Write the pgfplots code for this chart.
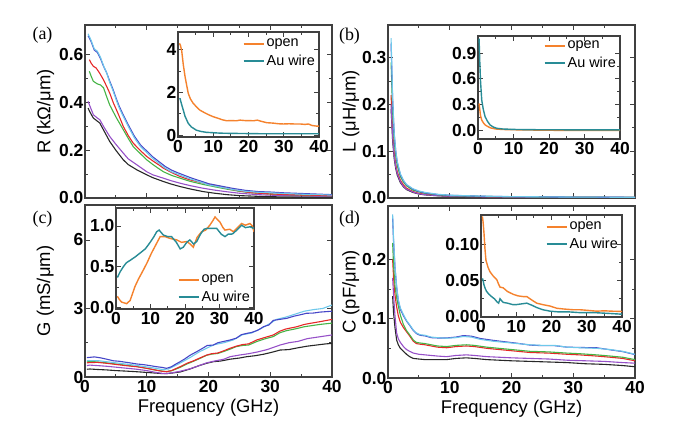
\documentclass[border=0pt]{standalone}
\usepackage{pgfplots}
\pgfplotsset{compat=1.18}
\usepackage{fontspec}
\setmainfont{Liberation Sans}
\newfontfamily\seriffont{Liberation Serif}
\definecolor{cOrange}{RGB}{245,130,45}
\definecolor{cTeal}{RGB}{40,140,150}
\definecolor{cCyan}{RGB}{110,200,235}
\definecolor{cBlue}{RGB}{70,70,200}
\definecolor{cRed}{RGB}{230,40,40}
\definecolor{cGreen}{RGB}{70,180,70}
\definecolor{cPurple}{RGB}{150,80,200}
\definecolor{cBlack}{RGB}{40,40,40}
\newcommand\tickfont{\fontsize{17.5}{19}\selectfont\bfseries}
\newcommand\labfont{\fontsize{18.5}{20}\selectfont}
\newcommand\legfont{\fontsize{14.5}{15}\selectfont}
\pgfplotsset{
  legend image code/.code={\draw[#1, line width=2bp] (0bp,0bp) -- (20bp,0bp);},
  common/.style={
    scale only axis, xmin=0, xmax=40, xtick={0,10,20,30,40},
    minor x tick num=1, minor y tick num=1,
    axis line style={line width=1.1bp, color=black!75},
    every tick/.style={line width=0.8bp, black!75},
    major tick length=5bp, minor tick length=3bp,
    tick label style={font=\tickfont},
    /pgf/number format/assume math mode=true,
    yticklabel style={inner xsep=1.5bp},
    xticklabel style={inner ysep=3bp},
  },
  mainax/.style={common, width=247bp, height=173bp, anchor=south west,
    every axis plot/.append style={line width=1.1bp},
    every axis y label/.style={at={(axis description cs:#1,0.5)}, rotate=90, anchor=center, font=\labfont},
    every axis x label/.style={at={(axis description cs:0.5,-0.205)}, anchor=base, font=\labfont},
  },
  inset/.style={common, anchor=south west, axis background/.style={fill=white},
    every axis plot/.append style={line width=1.4bp},
    legend style={draw=none, fill=none, font=\legfont, inner sep=1bp, row sep=2.5bp,
      cells={anchor=west}},
  },
  legtop/.style={legend style={at={(axis description cs:1,1)}, anchor=north east, xshift=-1bp, yshift=-#1}},
  legbot/.style={legend style={at={(axis description cs:1,0)}, anchor=south east, xshift=-1bp, yshift=#1}},
}
\begin{document}
\begin{tikzpicture}
\path[use as bounding box] (0,0) rectangle (676bp,442bp);

% ---------------- (a) ----------------
\begin{axis}[mainax=-0.16, at={(85bp,244bp)}, ymin=0, ymax=0.725,
  ytick={0,0.2,0.4,0.6}, xticklabels={},
  yticklabel style={/pgf/number format/fixed,/pgf/number format/fixed zerofill,/pgf/number format/precision=1},
  ylabel={R (kΩ/μm)}]
\addplot[cBlack] coordinates {(0.5,0.377)(0.8,0.36)(1.35,0.335)(2.0,0.322)(2.4,0.314)(3.0,0.285)(4.0,0.237)(5.0,0.2)(6.2,0.16)(7.0,0.14)(8.4,0.118)(10,0.097)(11,0.085)(12.7,0.069)(14,0.058)(15.4,0.048)(17,0.038)(19.1,0.027)(21,0.02)(23,0.014)(25,0.01)(28,0.007)(31,0.005)(35,0.004)(40,0.004)};
\addplot[cPurple] coordinates {(0.5,0.405)(0.8,0.385)(1.35,0.349)(2.0,0.335)(2.4,0.328)(3.0,0.3)(4.0,0.258)(5.0,0.225)(6.2,0.188)(7.0,0.164)(8.4,0.139)(10,0.11)(11,0.097)(12.7,0.083)(14,0.072)(15.4,0.062)(17,0.052)(19.1,0.041)(21,0.033)(23,0.026)(25,0.02)(28,0.014)(31,0.011)(35,0.009)(40,0.008)};
\addplot[cGreen] coordinates {(0.7,0.531)(1.0,0.51)(1.35,0.489)(2.0,0.478)(2.5,0.474)(3.0,0.462)(3.5,0.425)(4.0,0.39)(5.0,0.34)(6.2,0.286)(7.0,0.25)(7.8,0.216)(9.0,0.185)(10,0.16)(11,0.14)(12,0.122)(12.7,0.11)(14,0.095)(15.4,0.083)(17,0.07)(19.1,0.057)(21,0.047)(23,0.037)(25,0.028)(27,0.022)(30,0.017)(33,0.014)(36,0.012)(40,0.01)};
\addplot[cRed] coordinates {(0.7,0.58)(1.0,0.565)(1.35,0.552)(1.8,0.545)(2.4,0.522)(3.0,0.495)(3.5,0.468)(4.0,0.44)(4.6,0.398)(5.0,0.375)(5.5,0.345)(6.2,0.3)(7.0,0.262)(7.8,0.23)(9.0,0.198)(10,0.174)(11,0.155)(12,0.138)(12.7,0.125)(14,0.107)(15.4,0.09)(17,0.076)(19.1,0.063)(21,0.052)(23,0.04)(25,0.03)(27,0.022)(30,0.017)(33,0.014)(36,0.012)(40,0.01)};
\addplot[cBlue] coordinates {(0.5,0.68)(1.0,0.655)(1.5,0.62)(2.0,0.61)(2.5,0.585)(3.0,0.552)(3.5,0.525)(4.0,0.49)(4.5,0.458)(5.0,0.421)(5.5,0.387)(6.0,0.359)(7.0,0.307)(8.0,0.259)(9.0,0.222)(10,0.197)(11,0.172)(12,0.152)(13,0.132)(14,0.117)(15,0.106)(16,0.096)(17,0.086)(18,0.077)(19,0.069)(20,0.06)(22,0.05)(24,0.04)(26,0.032)(28,0.027)(30,0.025)(32,0.022)(34,0.02)(36,0.018)(38,0.016)(40,0.014)};
\addplot[cCyan] coordinates {(0.5,0.688)(1.0,0.66)(1.5,0.625)(2.0,0.615)(2.5,0.59)(3.0,0.555)(3.5,0.525)(4.0,0.485)(4.5,0.452)(5.0,0.415)(5.5,0.38)(6.0,0.352)(7.0,0.3)(8.0,0.252)(9.0,0.215)(10,0.19)(11,0.165)(12,0.145)(13,0.125)(14,0.11)(15,0.1)(16,0.09)(17,0.08)(18,0.072)(19,0.064)(20,0.055)(22,0.045)(24,0.035)(26,0.028)(28,0.024)(30,0.022)(32,0.019)(34,0.017)(36,0.015)(38,0.014)(40,0.012)};
\end{axis}
\begin{axis}[inset, legtop=4bp, at={(178bp,305bp)}, width=141bp, height=105bp, ymin=-0.09, ymax=4.83,
  ytick={0,2,4}]
\addplot[cOrange] coordinates {(0.4,4.3)(0.7,4.2)(1.05,3.95)(1.5,3.3)(2.0,2.74)(2.5,2.3)(2.9,1.96)(3.5,1.7)(4.3,1.49)(5.2,1.33)(6.2,1.17)(7.5,1.05)(8.7,0.95)(10,0.86)(11.5,0.78)(12.5,0.72)(13.8,0.67)(15,0.68)(16.5,0.67)(17.6,0.7)(19,0.68)(20,0.68)(21.4,0.67)(22.5,0.7)(23.5,0.65)(25.2,0.58)(27,0.56)(28.5,0.53)(29.9,0.52)(31.5,0.53)(33,0.52)(34.6,0.52)(36,0.5)(37,0.52)(38,0.45)(39.3,0.42)(40,0.42)};
\addlegendentry{open}
\addplot[cTeal] coordinates {(0.4,1.72)(0.6,1.7)(1.0,1.45)(1.5,1.17)(2.0,0.88)(2.9,0.55)(3.8,0.38)(5.2,0.23)(6.5,0.17)(8,0.13)(10,0.11)(12,0.09)(15,0.08)(20,0.07)(25,0.06)(30,0.06)(35,0.06)(40,0.06)};
\addlegendentry{Au wire}
\end{axis}

% ---------------- (b) ----------------
\begin{axis}[mainax=-0.15, at={(388bp,244bp)}, ymin=0, ymax=0.37,
  ytick={0,0.1,0.2,0.3}, xticklabels={},
  yticklabel style={/pgf/number format/fixed,/pgf/number format/fixed zerofill,/pgf/number format/precision=1},
  ylabel={L (μH/μm)}]
\addplot[cBlack] coordinates {(0.5,0.19)(0.75,0.123)(1,0.085)(1.25,0.063)(1.5,0.049)(2,0.033)(2.5,0.024)(3,0.018)(4,0.012)(5,0.0085)(6,0.0067)(8,0.0048)(10,0.0036)(15,0.0027)(20,0.0019)(30,0.0013)(40,0.001)};
\addplot[cRed] coordinates {(0.5,0.22)(0.75,0.14)(1,0.097)(1.25,0.072)(1.5,0.056)(2,0.038)(2.5,0.028)(3,0.021)(4,0.014)(5,0.01)(6,0.008)(8,0.006)(10,0.004)(15,0.003)(20,0.002)(30,0.0015)(40,0.001)};
\addplot[cPurple] coordinates {(0.5,0.2)(0.75,0.13)(1,0.09)(1.25,0.067)(1.5,0.052)(2,0.035)(2.5,0.025)(3,0.019)(4,0.013)(5,0.009)(6,0.007)(8,0.005)(10,0.0038)(15,0.0028)(20,0.002)(30,0.0014)(40,0.001)};
\addplot[cGreen] coordinates {(0.5,0.29)(0.75,0.185)(1,0.123)(1.25,0.09)(1.5,0.069)(2,0.046)(2.5,0.034)(3,0.026)(4,0.017)(5,0.013)(6,0.01)(8,0.007)(10,0.005)(15,0.0035)(20,0.0025)(30,0.0017)(40,0.0013)};
\addplot[cBlue] coordinates {(0.5,0.33)(0.75,0.21)(1,0.137)(1.25,0.1)(1.5,0.076)(2,0.05)(2.5,0.037)(3,0.028)(4,0.019)(5,0.014)(6,0.011)(8,0.0075)(10,0.0058)(15,0.0038)(20,0.0028)(30,0.0019)(40,0.0014)};
\addplot[cCyan] coordinates {(0.5,0.342)(0.75,0.215)(1,0.14)(1.25,0.102)(1.5,0.078)(2,0.052)(2.5,0.038)(3,0.029)(4,0.02)(5,0.015)(6,0.012)(8,0.008)(10,0.006)(15,0.004)(20,0.003)(30,0.002)(40,0.0015)};
\end{axis}
\begin{axis}[inset, legtop=2bp, at={(478bp,303bp)}, width=142bp, height=103bp, ymin=-0.105, ymax=1.10,
  ytick={0,0.3,0.6,0.9},
  yticklabel style={/pgf/number format/fixed,/pgf/number format/fixed zerofill,/pgf/number format/precision=1}]
\addplot[cOrange] coordinates {(0.3,0.31)(0.5,0.24)(0.7,0.17)(1.05,0.117)(1.5,0.085)(2.0,0.06)(2.5,0.047)(3.5,0.025)(5,0.012)(7,0.006)(10,0.003)(15,0.0)(20,-0.003)(30,-0.005)(40,-0.006)};
\addlegendentry{open}
\addplot[cTeal] coordinates {(0.3,1.07)(0.5,0.8)(0.7,0.58)(1.05,0.35)(1.5,0.24)(2.0,0.156)(2.7,0.1)(3.4,0.06)(4.3,0.035)(5.3,0.02)(7,0.012)(10,0.007)(15,0.004)(20,0.003)(30,0.002)(40,0.001)};
\addlegendentry{Au wire}
\end{axis}

% ---------------- (c) ----------------
\begin{axis}[mainax=-0.16, at={(85bp,65bp)}, height=172bp, ymin=0, ymax=7.53,
  ytick={0,3,6}, xlabel={Frequency (GHz)}, ylabel={G (mS/μm)}]
\addplot[cBlack] coordinates {(0.3,0.34)(0.8,0.35)(2,0.33)(3.5,0.31)(5,0.28)(6.5,0.26)(8.4,0.23)(10,0.2)(11.5,0.17)(12.5,0.15)(13.2,0.15)(14,0.17)(15.4,0.22)(17,0.35)(18.5,0.5)(19.7,0.6)(20.8,0.67)(22,0.7)(23.5,0.78)(25,0.83)(26.2,0.89)(27.5,0.93)(29,1.0)(30.5,1.1)(31.6,1.18)(33,1.2)(34.5,1.28)(36,1.35)(37.5,1.4)(39,1.45)(40,1.47)};
\addplot[cPurple] coordinates {(0.3,0.5)(0.8,0.52)(2,0.5)(3.5,0.47)(5,0.43)(6.5,0.39)(8.4,0.34)(10,0.28)(11.5,0.2)(12.5,0.16)(13.2,0.15)(14,0.18)(15.4,0.25)(17,0.36)(18.5,0.5)(19.7,0.62)(21,0.7)(22.5,0.78)(23.5,0.89)(25,0.96)(26.5,1.02)(28,1.1)(29.5,1.2)(31.6,1.4)(33,1.5)(34.5,1.56)(36,1.68)(37.5,1.74)(39,1.8)(40,1.84)};
\addplot[cGreen] coordinates {(0.3,0.66)(0.8,0.68)(2,0.66)(3.5,0.62)(5,0.57)(6.5,0.52)(8.4,0.46)(10,0.38)(11.5,0.3)(12.5,0.26)(13.2,0.24)(14,0.27)(15.4,0.42)(16.5,0.57)(17.5,0.68)(18.5,0.8)(19.7,0.95)(20.5,1.0)(21.5,1.03)(22.5,1.12)(23.5,1.22)(24.5,1.33)(25.5,1.38)(26.5,1.4)(27.8,1.55)(29,1.66)(30.5,1.77)(31.5,1.93)(32.5,2.02)(34.3,2.12)(35.5,2.2)(36.5,2.24)(38,2.3)(39,2.33)(40,2.36)};
\addplot[cRed] coordinates {(0.3,0.62)(0.8,0.63)(2,0.64)(3.5,0.6)(5,0.55)(6.5,0.5)(8.4,0.45)(10,0.38)(11.5,0.3)(12.5,0.25)(13.2,0.23)(14,0.28)(15.4,0.45)(16.5,0.6)(17.5,0.7)(18.5,0.82)(19.7,0.96)(20.5,1.02)(21.5,1.05)(22.5,1.15)(23.5,1.26)(24.5,1.35)(25.5,1.42)(26.5,1.45)(27.8,1.62)(29,1.72)(30.5,1.84)(31.5,2.0)(32.5,2.1)(34.3,2.2)(35.5,2.3)(36.5,2.35)(38,2.42)(39,2.47)(40,2.52)};
\addplot[cCyan] coordinates {(0.3,0.72)(2,0.72)(5,0.62)(8,0.52)(11,0.4)(12.5,0.33)(13.5,0.35)(15,0.55)(17,0.85)(18.5,1.1)(20,1.3)(21,1.42)(22.5,1.5)(24,1.62)(25.5,1.85)(27,1.93)(28.5,2.12)(30,2.35)(31,2.52)(32.5,2.62)(34,2.75)(35.5,2.88)(37,2.95)(38.5,3.0)(40,3.15)};
\addplot[cBlue] coordinates {(0.3,0.85)(0.8,0.86)(1.5,0.88)(2.5,0.84)(3.5,0.78)(4.6,0.71)(5.5,0.69)(6.5,0.65)(7.5,0.61)(8.4,0.57)(9.5,0.54)(10.5,0.5)(11.6,0.45)(12.5,0.42)(13.2,0.38)(14,0.45)(14.8,0.58)(15.4,0.67)(16.2,0.8)(17,0.95)(18.1,1.11)(19,1.25)(19.8,1.38)(20.8,1.4)(21.5,1.5)(22.5,1.56)(23.5,1.62)(24.5,1.7)(25.3,1.85)(26.2,1.91)(27,1.95)(28,2.05)(28.9,2.2)(29.8,2.28)(30.5,2.48)(31.5,2.52)(32.7,2.57)(33.8,2.66)(34.8,2.72)(35.9,2.79)(37,2.8)(38,2.84)(39,2.86)(40,2.88)};
\end{axis}
\begin{axis}[inset, legbot=3bp, at={(116bp,133bp)}, width=138bp, height=101bp, ymin=-0.015, ymax=1.22,
  ytick={0,0.5,1},
  yticklabel style={/pgf/number format/fixed,/pgf/number format/fixed zerofill,/pgf/number format/precision=1}]
\addplot[cOrange] coordinates {(0.4,0.14)(1.0,0.1)(1.6,0.07)(3.1,0.05)(4.1,0.09)(5.5,0.26)(6.5,0.35)(7.9,0.46)(9,0.55)(10.3,0.67)(11.8,0.79)(12.8,0.87)(14.2,0.87)(15.5,0.85)(16.5,0.84)(17.6,0.83)(19,0.8)(20.5,0.81)(21.5,0.78)(22.4,0.74)(23.5,0.86)(24.8,0.93)(26,0.95)(27.2,1.01)(28,1.06)(28.7,1.11)(29.4,1.08)(30.1,1.05)(31,0.98)(31.6,0.95)(33,0.96)(34,0.93)(35.2,0.98)(36.4,1.03)(37.5,1.01)(38.8,1.03)(39.5,1.0)(40,0.93)};
\addlegendentry{open}
\addplot[cTeal] coordinates {(0.4,0.37)(1.2,0.44)(2.1,0.5)(3,0.55)(4.1,0.58)(5.5,0.62)(7,0.67)(8.5,0.72)(9.9,0.8)(11,0.87)(11.8,0.93)(12.5,0.95)(13.7,0.89)(15,0.87)(16.1,0.87)(17.5,0.8)(18.6,0.72)(19.5,0.74)(20.5,0.8)(21.4,0.83)(22.5,0.78)(23.4,0.81)(24.5,0.9)(25.5,0.96)(26.3,0.97)(27.5,0.97)(29.2,0.97)(30.5,0.9)(31.6,0.87)(32.5,0.9)(33.5,0.9)(34,0.91)(35,0.95)(36.4,1.01)(37.5,0.98)(38.8,0.99)(40,0.97)};
\addlegendentry{Au wire}
\end{axis}

% ---------------- (d) ----------------
\begin{axis}[mainax=-0.15, at={(388bp,64bp)}, height=172bp, ymin=0, ymax=0.29,
  ytick={0,0.1,0.2}, xlabel={Frequency (GHz)}, ylabel={C (pF/μm)},
  yticklabel style={/pgf/number format/fixed,/pgf/number format/fixed zerofill,/pgf/number format/precision=1}]
\addplot[cBlack] coordinates {(0.75,0.138)(0.9,0.11)(1.13,0.085)(1.4,0.064)(1.67,0.056)(2.0,0.05)(2.5,0.045)(3.0,0.04)(3.5,0.036)(4.1,0.033)(5,0.032)(6,0.031)(8,0.031)(9.5,0.031)(11,0.033)(12.7,0.034)(14,0.033)(16,0.031)(18,0.03)(20,0.029)(23,0.028)(26,0.027)(29,0.026)(32,0.024)(35,0.023)(38,0.021)(40,0.019)};
\addplot[cPurple] coordinates {(0.75,0.169)(0.9,0.14)(1.13,0.105)(1.4,0.076)(1.67,0.066)(2.0,0.06)(2.5,0.053)(3.0,0.048)(3.5,0.045)(4.1,0.042)(5,0.04)(6,0.039)(7,0.038)(8,0.037)(9.5,0.036)(11,0.038)(12.7,0.039)(14,0.038)(16,0.036)(18,0.035)(20,0.034)(23,0.033)(26,0.032)(29,0.03)(32,0.029)(35,0.028)(38,0.026)(40,0.025)};
\addplot[cRed] coordinates {(0.75,0.2)(0.9,0.17)(1.13,0.14)(1.4,0.12)(1.67,0.105)(2.0,0.094)(2.5,0.085)(3.0,0.078)(3.5,0.071)(4.1,0.062)(4.6,0.058)(5.2,0.057)(6,0.056)(7,0.054)(8,0.052)(9.5,0.051)(11,0.053)(12.7,0.054)(14,0.053)(16,0.05)(18,0.048)(20,0.046)(23,0.043)(26,0.042)(29,0.04)(31,0.039)(33.8,0.037)(36,0.035)(38,0.033)(40,0.029)};
\addplot[cGreen] coordinates {(0.75,0.228)(0.9,0.19)(1.13,0.155)(1.4,0.135)(1.67,0.121)(2.0,0.106)(2.5,0.09)(3.0,0.08)(3.5,0.073)(4.1,0.064)(4.6,0.06)(5.2,0.059)(6,0.058)(7,0.056)(8,0.054)(9.5,0.053)(11,0.055)(12.7,0.056)(14,0.055)(16,0.052)(18,0.05)(20,0.048)(23,0.045)(26,0.044)(29,0.042)(31,0.041)(33.8,0.039)(36,0.037)(38,0.035)(40,0.031)};
\addplot[cBlue] coordinates {(0.75,0.27)(0.9,0.23)(1.13,0.186)(1.4,0.153)(1.67,0.13)(2.0,0.116)(2.5,0.105)(3.0,0.096)(3.5,0.089)(4.1,0.08)(4.6,0.075)(5.2,0.072)(6,0.071)(7,0.068)(8,0.0675)(9.5,0.0675)(11,0.069)(12.2,0.0715)(13.5,0.0705)(15,0.0665)(17,0.0635)(19,0.061)(21,0.0585)(23,0.0555)(25,0.0545)(27,0.0545)(29,0.052)(31,0.0515)(33.8,0.051)(36,0.0475)(38,0.0445)(40,0.0395)};
\addplot[cCyan] coordinates {(0.75,0.276)(0.9,0.235)(1.13,0.189)(1.4,0.155)(1.67,0.132)(2.0,0.118)(2.5,0.107)(3.0,0.097)(3.5,0.09)(4.1,0.081)(4.6,0.076)(5.2,0.073)(6,0.072)(7,0.069)(8,0.068)(9.5,0.067)(11,0.068)(12.2,0.07)(13.5,0.069)(15,0.065)(17,0.062)(19,0.06)(21,0.058)(23,0.056)(25,0.055)(27,0.055)(29,0.052)(31,0.051)(33.8,0.05)(36,0.048)(38,0.045)(40,0.04)};
\end{axis}
\begin{axis}[inset, legtop=4bp, at={(481bp,125bp)}, width=141bp, height=102bp, ymin=0, ymax=0.14,
  ytick={0,0.05,0.1},
  yticklabel style={/pgf/number format/fixed,/pgf/number format/fixed zerofill,/pgf/number format/precision=2}]
\addplot[cOrange] coordinates {(0.4,0.138)(0.6,0.13)(0.85,0.115)(1.1,0.095)(1.4,0.078)(2.0,0.068)(2.55,0.062)(3.5,0.056)(4.5,0.051)(5.0,0.045)(5.4,0.041)(6.3,0.04)(7.5,0.035)(9.2,0.031)(10.5,0.029)(12,0.028)(13,0.028)(14.5,0.023)(15.8,0.019)(17.5,0.017)(19.6,0.015)(21.5,0.012)(23.4,0.011)(26,0.01)(28,0.01)(30.5,0.009)(32.8,0.008)(35,0.0085)(37,0.008)(39.4,0.0077)(40,0.0075)};
\addlegendentry{open}
\addplot[cTeal] coordinates {(0.4,0.053)(0.6,0.05)(0.85,0.044)(1.2,0.039)(1.6,0.035)(2.3,0.031)(3,0.028)(3.8,0.025)(4.5,0.021)(5.0,0.019)(5.4,0.025)(5.9,0.022)(6.3,0.02)(7.5,0.019)(9,0.017)(10,0.017)(11.5,0.018)(13,0.019)(14.5,0.016)(15.8,0.013)(17.5,0.01)(19.6,0.008)(22,0.007)(25,0.007)(28,0.006)(32,0.006)(36,0.005)(39.4,0.004)(40,0.004)};
\addlegendentry{Au wire}
\end{axis}

% panel labels
\node[font=\seriffont\fontsize{18}{20}\selectfont] at (42.5bp,407bp) {(a)};
\node[font=\seriffont\fontsize{18}{20}\selectfont] at (349.5bp,405.5bp) {(b)};
\node[font=\seriffont\fontsize{18}{20}\selectfont] at (42.5bp,223bp) {(c)};
\node[font=\seriffont\fontsize{18}{20}\selectfont] at (349.5bp,222.5bp) {(d)};
\end{tikzpicture}
\end{document}
